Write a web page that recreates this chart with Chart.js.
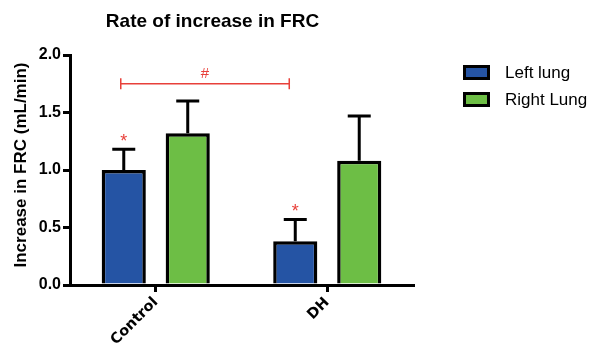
<!DOCTYPE html>
<html>
<head>
<meta charset="utf-8">
<script src="https://cdn.jsdelivr.net/npm/chart.js@4/dist/chart.umd.min.js"></script>
<style>
html,body{margin:0;padding:0;background:#fff;}
canvas{display:block;}
</style>
</head>
<body>
<canvas id="c" width="596" height="347"></canvas>
<script>
// ---- data ----
const categories = ['Control', 'DH'];
const seriesNames = ['Left lung', 'Right Lung'];
const leftLung = [1.00, 0.38];
const rightLung = [1.32, 1.08];
const leftLungErr = [0.18, 0.19];
const rightLungErr = [0.28, 0.39];
const yTicks = [0, 0.5, 1.0, 1.5, 2.0];
const leftLungStars = [true, true];
const rightLungStars = [false, false];
const bracketValue = 1.75;
const bracketLabel = '#';
const titleText = 'Rate of increase in FRC';
const yTitleText = 'Increase in FRC (mL/min)';

const colors = ['#2554A4', '#6DBE45'];
const errs = [leftLungErr, rightLungErr];
const stars = [leftLungStars, rightLungStars];
const RED = '#E8403A';

const decorPlugin = {
  id: 'decor',
  afterDatasetsDraw(chart) {
    const ctx = chart.ctx;
    const ys = chart.scales.y;
    ctx.save();
    // error bars
    chart.data.datasets.forEach((ds, di) => {
      const meta = chart.getDatasetMeta(di);
      meta.data.forEach((el, i) => {
        const v = ds.data[i];
        const top = ys.getPixelForValue(v + errs[di][i]);
        ctx.strokeStyle = '#000';
        ctx.lineWidth = 3;
        ctx.lineCap = 'butt';
        ctx.beginPath();
        ctx.moveTo(el.x, el.y);
        ctx.lineTo(el.x, top);
        ctx.moveTo(el.x - 11.5, top);
        ctx.lineTo(el.x + 11.5, top);
        ctx.stroke();
        if (stars[di][i]) {
          ctx.fillStyle = RED;
          ctx.font = '18px "Liberation Sans", Arial, sans-serif';
          ctx.textAlign = 'center';
          ctx.textBaseline = 'alphabetic';
          ctx.fillText('*', el.x, top - 2);
        }
      });
    });
    // significance bracket between left-lung bars
    const m0 = chart.getDatasetMeta(0).data;
    const x1 = m0[0].x - 3, x2 = m0[1].x - 6;
    const by = ys.getPixelForValue(bracketValue);
    ctx.strokeStyle = RED;
    ctx.lineWidth = 1.5;
    ctx.beginPath();
    ctx.moveTo(x1, by); ctx.lineTo(x2, by);
    ctx.moveTo(x1, by - 5.5); ctx.lineTo(x1, by + 5.5);
    ctx.moveTo(x2, by - 5.5); ctx.lineTo(x2, by + 5.5);
    ctx.stroke();
    ctx.fillStyle = RED;
    ctx.font = '15px "Liberation Sans", Arial, sans-serif';
    ctx.textAlign = 'center';
    ctx.textBaseline = 'middle';
    ctx.fillText(bracketLabel, (x1 + x2) / 2, by - 10);
    ctx.restore();
  },
  afterDraw(chart) {
    const ctx = chart.ctx;
    ctx.save();
    // title
    ctx.fillStyle = '#000';
    ctx.font = 'bold 19px "Liberation Sans", Arial, sans-serif';
    ctx.textAlign = 'center';
    ctx.textBaseline = 'middle';
    ctx.fillText(titleText, 212.5, 22);
    // y title
    ctx.save();
    ctx.translate(21, 165);
    ctx.rotate(-Math.PI / 2);
    ctx.font = 'bold 17px "Liberation Sans", Arial, sans-serif';
    ctx.fillText(yTitleText, 0, 0);
    ctx.restore();
    // legend
    seriesNames.forEach((name, i) => {
      const y = 65 + i * 27;
      ctx.fillStyle = colors[i];
      ctx.fillRect(463, y, 27, 15);
      ctx.strokeStyle = '#000';
      ctx.lineWidth = 3;
      ctx.strokeRect(463 + 1.5, y + 1.5, 24, 12);
      ctx.fillStyle = '#000';
      ctx.font = '17px "Liberation Sans", Arial, sans-serif';
      ctx.textAlign = 'left';
      ctx.textBaseline = 'middle';
      ctx.fillText(name, 505, y + 8);
    });
    ctx.restore();
  }
};

new Chart(document.getElementById('c'), {
  type: 'bar',
  data: {
    labels: categories,
    datasets: [
      { label: seriesNames[0], data: leftLung, backgroundColor: colors[0], borderColor: '#000', borderWidth: 3.5, borderSkipped: 'start' },
      { label: seriesNames[1], data: rightLung, backgroundColor: colors[1], borderColor: '#000', borderWidth: 3.5, borderSkipped: 'start' }
    ]
  },
  options: {
    responsive: false,
    animation: false,
    devicePixelRatio: 1,
    layout: { padding: { top: 55, right: 183, left: 0, bottom: 0 } },
    datasets: { bar: { categoryPercentage: 0.746, barPercentage: 0.69 } },
    plugins: { legend: { display: false }, title: { display: false }, tooltip: { enabled: false } },
    scales: {
      x: {
        offset: true,
        grid: { display: true, drawOnChartArea: false, drawTicks: true, tickLength: 7, offset: false, color: '#000', lineWidth: 3 },
        border: { display: true, color: '#000', width: 3 },
        ticks: {
          color: '#000', maxRotation: 45, minRotation: 45, padding: 2,
          font: { family: '"DejaVu Sans", Verdana, sans-serif', weight: 'bold', size: 14.5 }
        },
        afterFit(scale) { scale.height = 62; }
      },
      y: {
        min: 0, max: 2,
        afterBuildTicks(scale) { scale.ticks = yTicks.map(v => ({ value: v })); },
        grid: { display: true, drawOnChartArea: false, drawTicks: true, tickLength: 7, color: '#000', lineWidth: 3 },
        border: { display: true, color: '#000', width: 3 },
        ticks: {
          color: '#000', padding: 2,
          font: { family: '"Liberation Sans", Arial, sans-serif', weight: 'bold', size: 16 },
          callback: (v) => Number(v).toFixed(1)
        },
        afterFit(scale) { scale.width = 70; }
      }
    }
  },
  plugins: [decorPlugin]
});
</script>
</body>
</html>
